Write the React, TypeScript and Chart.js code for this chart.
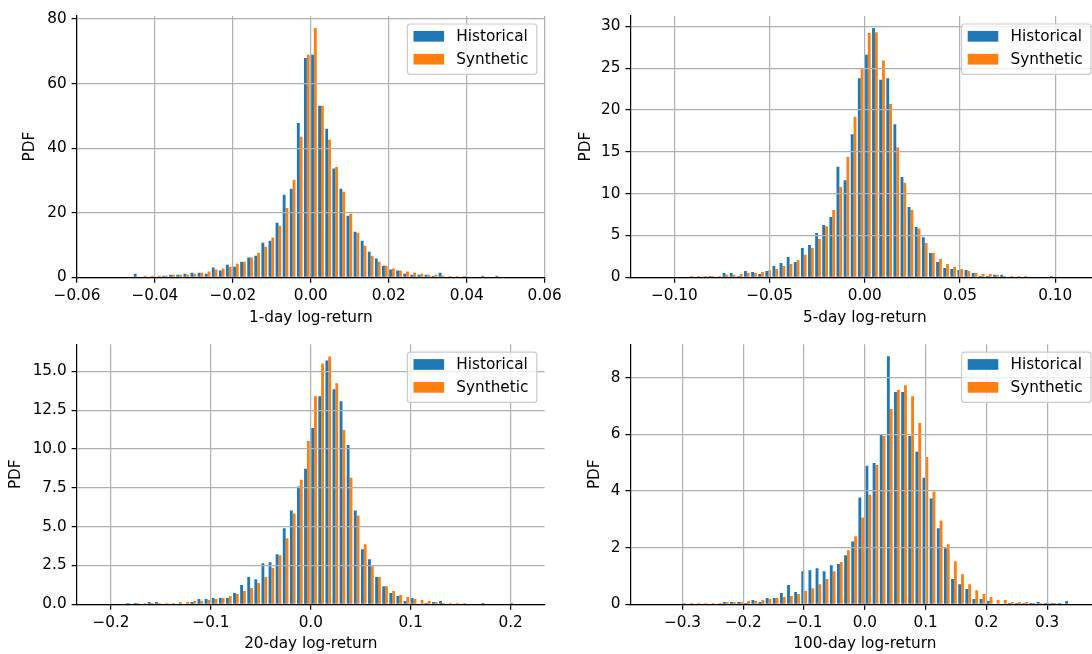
import React, { useEffect, useRef } from "react";
import { Chart, registerables } from "chart.js";

Chart.register(...registerables);

// ---------- shared ----------
const SERIES_NAMES = ["Historical", "Synthetic"];
const SERIES_COLORS = ["#1f77b4", "#ff7f0e"];
const Y_TITLE = "PDF";

// ---------- 1-day ----------
const X_TITLE_1D = "1-day log-return";
const BIN_FIRST_CENTER_1D = -0.0447;
const BIN_WIDTH_1D = 0.00182;
const HIST_1D = [1.1, 0, 0, 0, 0.5, 0.8, 0.8, 1.1, 1.4, 1.4, 1.1, 3.0, 2.1, 3.9, 3.3, 4.8, 6.1, 6.7, 10.7, 11.3, 16.9, 25.6, 27.4, 47.8, 67.9, 68.9, 53.1, 46.0, 33.7, 27.4, 19.1, 14.1, 11.3, 7.9, 5.8, 3.6, 2.4, 2.1, 1.1, 0.8, 0.8, 0.8, 0.4, 1.4, 0, 0, 0, 0, 0, 0.5, 0, 0.5];
const SYN_1D = [0, 0.45, 0.45, 0.45, 0.5, 0.8, 0.8, 0.8, 1.1, 1.4, 1.8, 2.4, 2.7, 3.3, 4.2, 4.8, 6.1, 7.6, 9.5, 12.3, 16.0, 21.5, 30.2, 43.5, 68.9, 77.2, 53.1, 42.6, 34.2, 26.5, 19.7, 13.8, 9.8, 6.7, 4.8, 3.6, 2.7, 2.1, 1.8, 1.4, 1.1, 0.8, 0.8, 0.5, 0.4, 0.4, 0.4, 0, 0, 0, 0, 0];
const X_LIMIT_1D = 0.06;
const Y_MAX_1D = 80.93;
const X_TICKS_1D = [-0.06, -0.04, -0.02, 0, 0.02, 0.04, 0.06];
const X_TICK_LABELS_1D = ["\u22120.06", "\u22120.04", "\u22120.02", "0.00", "0.02", "0.04", "0.06"];
const Y_TICKS_1D = [0, 20, 40, 60, 80];
const Y_TICK_LABELS_1D = ["0", "20", "40", "60", "80"];

// ---------- 5-day ----------
const X_TITLE_5D = "5-day log-return";
const BIN_FIRST_CENTER_5D = -0.09184;
const BIN_WIDTH_5D = 0.003737;
const HIST_5D = [0, 0, 0, 0.16, 0, 0.5, 0.5, 0.16, 0.76, 0.64, 0.4, 0.76, 1.35, 1.7, 2.43, 1.83, 3.5, 3.86, 5.3, 6.25, 7.2, 13.2, 11.6, 17.1, 23.8, 26.6, 29.8, 23.6, 23.8, 18.3, 12.0, 8.4, 6.0, 4.8, 2.9, 1.83, 1.1, 1.0, 0.88, 0.88, 0.5, 0.16, 0.16, 0.3, 0.3, 0, 0, 0, 0, 0, 0, 0.16];
const SYN_5D = [0.16, 0.16, 0.16, 0.16, 0.16, 0.3, 0.3, 0.4, 0.5, 0.5, 0.64, 0.88, 1.0, 1.35, 1.6, 2.07, 2.7, 3.5, 4.58, 6.1, 8.05, 10.8, 14.4, 19.2, 24.9, 29.2, 29.3, 25.9, 20.7, 15.5, 11.3, 8.05, 5.8, 4.1, 2.9, 2.2, 1.6, 1.24, 1.0, 0.76, 0.5, 0.4, 0.4, 0.3, 0.16, 0.16, 0.16, 0.16, 0, 0, 0, 0];
const X_LIMIT_5D = 0.1229;
const Y_MAX_5D = 31.23;
const X_TICKS_5D = [-0.1, -0.05, 0, 0.05, 0.1];
const X_TICK_LABELS_5D = ["\u22120.10", "\u22120.05", "0.00", "0.05", "0.10"];
const Y_TICKS_5D = [0, 5, 10, 15, 20, 25, 30];
const Y_TICK_LABELS_5D = ["0", "5", "10", "15", "20", "25", "30"];

// ---------- 20-day ----------
const X_TITLE_20D = "20-day log-return";
const BIN_FIRST_CENTER_20D = -0.1816;
const BIN_WIDTH_20D = 0.00711;
const HIST_20D = [0.085, 0.085, 0, 0.15, 0.15, 0, 0, 0, 0, 0.15, 0.34, 0.34, 0.4, 0.4, 0.4, 0.73, 1.24, 1.75, 1.62, 2.65, 2.71, 3.22, 4.89, 6.04, 7.58, 8.73, 11.35, 13.4, 15.7, 13.85, 13.08, 10.26, 6.04, 3.54, 2.9, 1.75, 1.17, 0.73, 0.53, 0.21, 0.4, 0, 0.085, 0.15, 0.21, 0, 0, 0, 0, 0, 0.085, 0, 0, 0, 0.085];
const SYN_20D = [0, 0.085, 0.085, 0.085, 0.085, 0.085, 0.085, 0.15, 0.15, 0.21, 0.21, 0.28, 0.34, 0.4, 0.53, 0.66, 0.85, 1.05, 1.37, 1.75, 2.33, 3.16, 4.25, 5.85, 8.02, 10.52, 13.4, 15.5, 15.96, 14.23, 11.22, 8.15, 5.72, 3.86, 2.45, 1.75, 1.17, 0.85, 0.6, 0.47, 0.34, 0.28, 0.21, 0.15, 0.085, 0.085, 0.085, 0.085, 0, 0, 0, 0, 0, 0, 0];
const X_LIMIT_20D = 0.234;
const Y_MAX_20D = 16.75;
const X_TICKS_20D = [-0.2, -0.1, 0, 0.1, 0.2];
const X_TICK_LABELS_20D = ["\u22120.2", "\u22120.1", "0.0", "0.1", "0.2"];
const Y_TICKS_20D = [0, 2.5, 5, 7.5, 10, 12.5, 15];
const Y_TICK_LABELS_20D = ["0.0", "2.5", "5.0", "7.5", "10.0", "12.5", "15.0"];

// ---------- 100-day ----------
const X_TITLE_100D = "100-day log-return";
const BIN_FIRST_CENTER_100D = -0.2991;
const BIN_WIDTH_100D = 0.01173;
const HIST_100D = [0, 0, 0, 0, 0, 0, 0.08, 0.08, 0.08, 0.05, 0.15, 0.08, 0.22, 0.22, 0.4, 0.68, 0.43, 1.17, 1.2, 1.27, 1.17, 1.38, 1.42, 1.73, 2.22, 3.77, 4.89, 4.99, 5.98, 8.75, 7.49, 7.49, 5.94, 5.38, 4.47, 3.73, 2.68, 1.98, 0.89, 0.71, 0.54, 0.19, 0.19, 0.12, 0, 0, 0.05, 0.05, 0.05, 0.05, 0.08, 0.05, 0.05, 0.05, 0.12];
const SYN_100D = [0.05, 0.05, 0.05, 0.05, 0.05, 0.05, 0.08, 0.08, 0.08, 0.12, 0.12, 0.15, 0.19, 0.22, 0.26, 0.29, 0.36, 0.47, 0.57, 0.71, 0.89, 1.17, 1.49, 1.91, 2.4, 3.06, 3.87, 4.92, 5.94, 6.89, 7.56, 7.73, 7.34, 6.4, 5.2, 3.98, 2.96, 2.12, 1.52, 1.06, 0.71, 0.5, 0.36, 0.26, 0.15, 0.15, 0.08, 0.08, 0.08, 0.05, 0.05, 0.05, 0.05, 0, 0];
const X_LIMIT_100D = 0.3849;
const Y_MAX_100D = 9.18;
const X_TICKS_100D = [-0.3, -0.2, -0.1, 0, 0.1, 0.2, 0.3];
const X_TICK_LABELS_100D = ["\u22120.3", "\u22120.2", "\u22120.1", "0.0", "0.1", "0.2", "0.3"];
const Y_TICKS_100D = [0, 2, 4, 6, 8];
const Y_TICK_LABELS_100D = ["0", "2", "4", "6", "8"];

// ---------- styling ----------
const FONT_FAMILY = '"DejaVu Sans", "Liberation Sans", sans-serif';
const FONT_SIZE = 15.28;
const TICK_LEN = 5.35;
const LINE_W = 1.22;

const legendPlugin = {
  id: "mplLegend",
  afterDraw(chart: any) {
    const { ctx, chartArea } = chart;
    const right = chartArea.right - 7.8;
    const top = chartArea.top + 8;
    const w = 129.4;
    const h = 50.3;
    const left = right - w;
    const r = 2.8;
    ctx.save();
    ctx.beginPath();
    ctx.moveTo(left + r, top);
    ctx.lineTo(right - r, top);
    ctx.arcTo(right, top, right, top + r, r);
    ctx.lineTo(right, top + h - r);
    ctx.arcTo(right, top + h, right - r, top + h, r);
    ctx.lineTo(left + r, top + h);
    ctx.arcTo(left, top + h, left, top + h - r, r);
    ctx.lineTo(left, top + r);
    ctx.arcTo(left, top, left + r, top, r);
    ctx.closePath();
    ctx.fillStyle = "rgba(255,255,255,0.8)";
    ctx.fill();
    ctx.strokeStyle = "#cccccc";
    ctx.lineWidth = LINE_W;
    ctx.stroke();
    chart.data.datasets.forEach((ds: any, i: number) => {
      const cy = top + 12.3 + i * 22.9;
      ctx.fillStyle = ds.backgroundColor;
      ctx.fillRect(left + 6.1, cy - 5.35, 30.6, 10.7);
      ctx.fillStyle = "#000";
      ctx.font = `${FONT_SIZE}px ${FONT_FAMILY}`;
      ctx.textBaseline = "middle";
      ctx.textAlign = "left";
      ctx.fillText(ds.label, left + 6.1 + 30.6 + 12.2, cy + 0.5);
    });
    ctx.restore();
  },
};

type PanelProps = {
  left: number; top: number; width: number; height: number;
  yAxisWidth: number; xAxisHeight: number; padTop: number; padRight: number;
  yTitlePad: number; xTitlePad: number;
  firstCenter: number; binWidth: number; hist: number[]; syn: number[];
  xLimit: number; yMax: number;
  xTicks: number[]; xLabels: string[]; yTicks: number[]; yLabels: string[];
  xTitle: string;
};

function Panel(p: PanelProps) {
  const ref = useRef<HTMLCanvasElement>(null);
  useEffect(() => {
    if (!ref.current) return;
    const centers = p.hist.map((_, i) => p.firstCenter + i * p.binWidth);
    const font = { family: FONT_FAMILY, size: FONT_SIZE };
    const chart = new Chart(ref.current, {
      type: "bar",
      data: {
        datasets: [
          { label: SERIES_NAMES[0], data: centers.map((x, i) => ({ x, y: p.hist[i] })), backgroundColor: SERIES_COLORS[0], borderWidth: 0 },
          { label: SERIES_NAMES[1], data: centers.map((x, i) => ({ x, y: p.syn[i] })), backgroundColor: SERIES_COLORS[1], borderWidth: 0 },
        ],
      } as any,
      options: {
        animation: false,
        responsive: false,
        devicePixelRatio: 1,
        events: [],
        layout: { padding: { left: 0, top: p.padTop, right: p.padRight, bottom: 0 } },
        datasets: { bar: { categoryPercentage: 0.8, barPercentage: 1.0 } },
        plugins: { legend: { display: false }, tooltip: { enabled: false } },
        scales: {
          x: {
            type: "linear",
            min: -p.xLimit,
            max: p.xLimit,
            offset: false,
            grid: { offset: false, color: "#b0b0b0", lineWidth: LINE_W, tickColor: "#000", tickLength: TICK_LEN, tickWidth: LINE_W, z: 1 },
            border: { display: true, color: "#000", width: LINE_W, z: 2 },
            ticks: { autoSkip: false, maxRotation: 0, minRotation: 0, padding: 4.4, font, color: "#000", callback: (_v: any, i: number) => p.xLabels[i] },
            afterBuildTicks: (s: any) => { s.ticks = p.xTicks.map((v) => ({ value: v })); },
            afterFit: (s: any) => { s.height = p.xAxisHeight; },
            title: { display: true, text: p.xTitle, font, color: "#000", padding: { top: 0, bottom: p.xTitlePad } },
          },
          y: {
            type: "linear",
            min: 0,
            max: p.yMax,
            grid: { color: "#b0b0b0", lineWidth: LINE_W, tickColor: "#000", tickLength: TICK_LEN, tickWidth: LINE_W, z: 1 },
            border: { display: true, color: "#000", width: LINE_W, z: 2 },
            ticks: { autoSkip: false, padding: 5, font, color: "#000", callback: (_v: any, i: number) => p.yLabels[i] },
            afterBuildTicks: (s: any) => { s.ticks = p.yTicks.map((v) => ({ value: v })); },
            afterFit: (s: any) => { s.width = p.yAxisWidth; },
            title: { display: true, text: Y_TITLE, font, color: "#000", padding: { top: p.yTitlePad, bottom: 0 } },
          },
        },
      } as any,
      plugins: [legendPlugin],
    });
    return () => chart.destroy();
  }, []);
  return (
    <canvas
      ref={ref}
      width={p.width}
      height={p.height}
      style={{ position: "absolute", left: p.left, top: p.top, width: p.width, height: p.height }}
    />
  );
}

export default function App() {
  return (
    <div style={{ position: "absolute", left: 0, top: 0, width: 1092, height: 654, overflow: "hidden", background: "#fff" }}>
      <Panel
        left={0} top={0} width={580} height={330}
        yAxisWidth={77} xAxisHeight={52.7} padTop={16} padRight={35.4}
        yTitlePad={21.3} xTitlePad={3.3}
        firstCenter={BIN_FIRST_CENTER_1D} binWidth={BIN_WIDTH_1D} hist={HIST_1D} syn={SYN_1D}
        xLimit={X_LIMIT_1D} yMax={Y_MAX_1D}
        xTicks={X_TICKS_1D} xLabels={X_TICK_LABELS_1D} yTicks={Y_TICKS_1D} yLabels={Y_TICK_LABELS_1D}
        xTitle={X_TITLE_1D}
      />
      <Panel
        left={546} top={0} width={574} height={330}
        yAxisWidth={84.8} xAxisHeight={52.7} padTop={16} padRight={21.2}
        yTitlePad={31.3} xTitlePad={3.3}
        firstCenter={BIN_FIRST_CENTER_5D} binWidth={BIN_WIDTH_5D} hist={HIST_5D} syn={SYN_5D}
        xLimit={X_LIMIT_5D} yMax={Y_MAX_5D}
        xTicks={X_TICKS_5D} xLabels={X_TICK_LABELS_5D} yTicks={Y_TICKS_5D} yLabels={Y_TICK_LABELS_5D}
        xTitle={X_TITLE_5D}
      />
      <Panel
        left={0} top={330} width={580} height={324}
        yAxisWidth={77} xAxisHeight={49.7} padTop={12.7} padRight={35.4}
        yTitlePad={7.3} xTitlePad={1.3}
        firstCenter={BIN_FIRST_CENTER_20D} binWidth={BIN_WIDTH_20D} hist={HIST_20D} syn={SYN_20D}
        xLimit={X_LIMIT_20D} yMax={Y_MAX_20D}
        xTicks={X_TICKS_20D} xLabels={X_TICK_LABELS_20D} yTicks={Y_TICKS_20D} yLabels={Y_TICK_LABELS_20D}
        xTitle={X_TITLE_20D}
      />
      <Panel
        left={546} top={330} width={574} height={324}
        yAxisWidth={84.8} xAxisHeight={49.7} padTop={12.7} padRight={21.2}
        yTitlePad={40.3} xTitlePad={1.3}
        firstCenter={BIN_FIRST_CENTER_100D} binWidth={BIN_WIDTH_100D} hist={HIST_100D} syn={SYN_100D}
        xLimit={X_LIMIT_100D} yMax={Y_MAX_100D}
        xTicks={X_TICKS_100D} xLabels={X_TICK_LABELS_100D} yTicks={Y_TICKS_100D} yLabels={Y_TICK_LABELS_100D}
        xTitle={X_TITLE_100D}
      />
    </div>
  );
}
